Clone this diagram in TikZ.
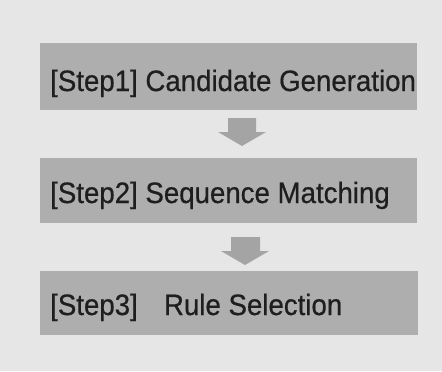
\documentclass[tikz,border=0pt]{standalone}
\usepackage{fontspec}
\setmainfont{Liberation Sans}
\newfontfamily\stepfont[FakeBold=0.6]{Liberation Sans}
\definecolor{bgcol}{HTML}{E6E6E6}
\definecolor{boxcol}{HTML}{AEAEAE}
\definecolor{arrcol}{HTML}{A4A4A4}
\definecolor{txtcol}{HTML}{1E1E1E}
\begin{document}
\begin{tikzpicture}[x=1bp,y=-1bp,
  stepbox/.style={fill=boxcol, draw=none},
  steptext/.style={anchor=base west, inner sep=0pt, text=txtcol, xscale=0.937, transform shape, font=\stepfont\fontsize{29.5bp}{34bp}\selectfont},
  flowarrow/.style={fill=arrcol, draw=none}]
\fill[bgcol] (0,0) rectangle (442,371);
\useasboundingbox (0,0) rectangle (442,371);
% boxes
\path[stepbox] (40,43) rectangle (417,110);
\path[stepbox] (40,158) rectangle (417,223);
\path[stepbox] (40,271) rectangle (418,335);
% texts
\node[steptext] (s1) at (50,91) {[Step1] Candidate Generation};
\node[steptext] (s2) at (50,203) {[Step2] Sequence Matching};
\node[steptext] (s3) at (50,315) {[Step3]\hspace{0.95em}Rule Selection};
% arrows
\path[flowarrow] (228,118) -- (256,118) -- (256,132) -- (266,132) -- (242,146) -- (218,132) -- (228,132) -- cycle;
\path[flowarrow] (231,237) -- (260,237) -- (260,251) -- (269,251) -- (245,265) -- (221,251) -- (231,251) -- cycle;
\end{tikzpicture}
\end{document}
